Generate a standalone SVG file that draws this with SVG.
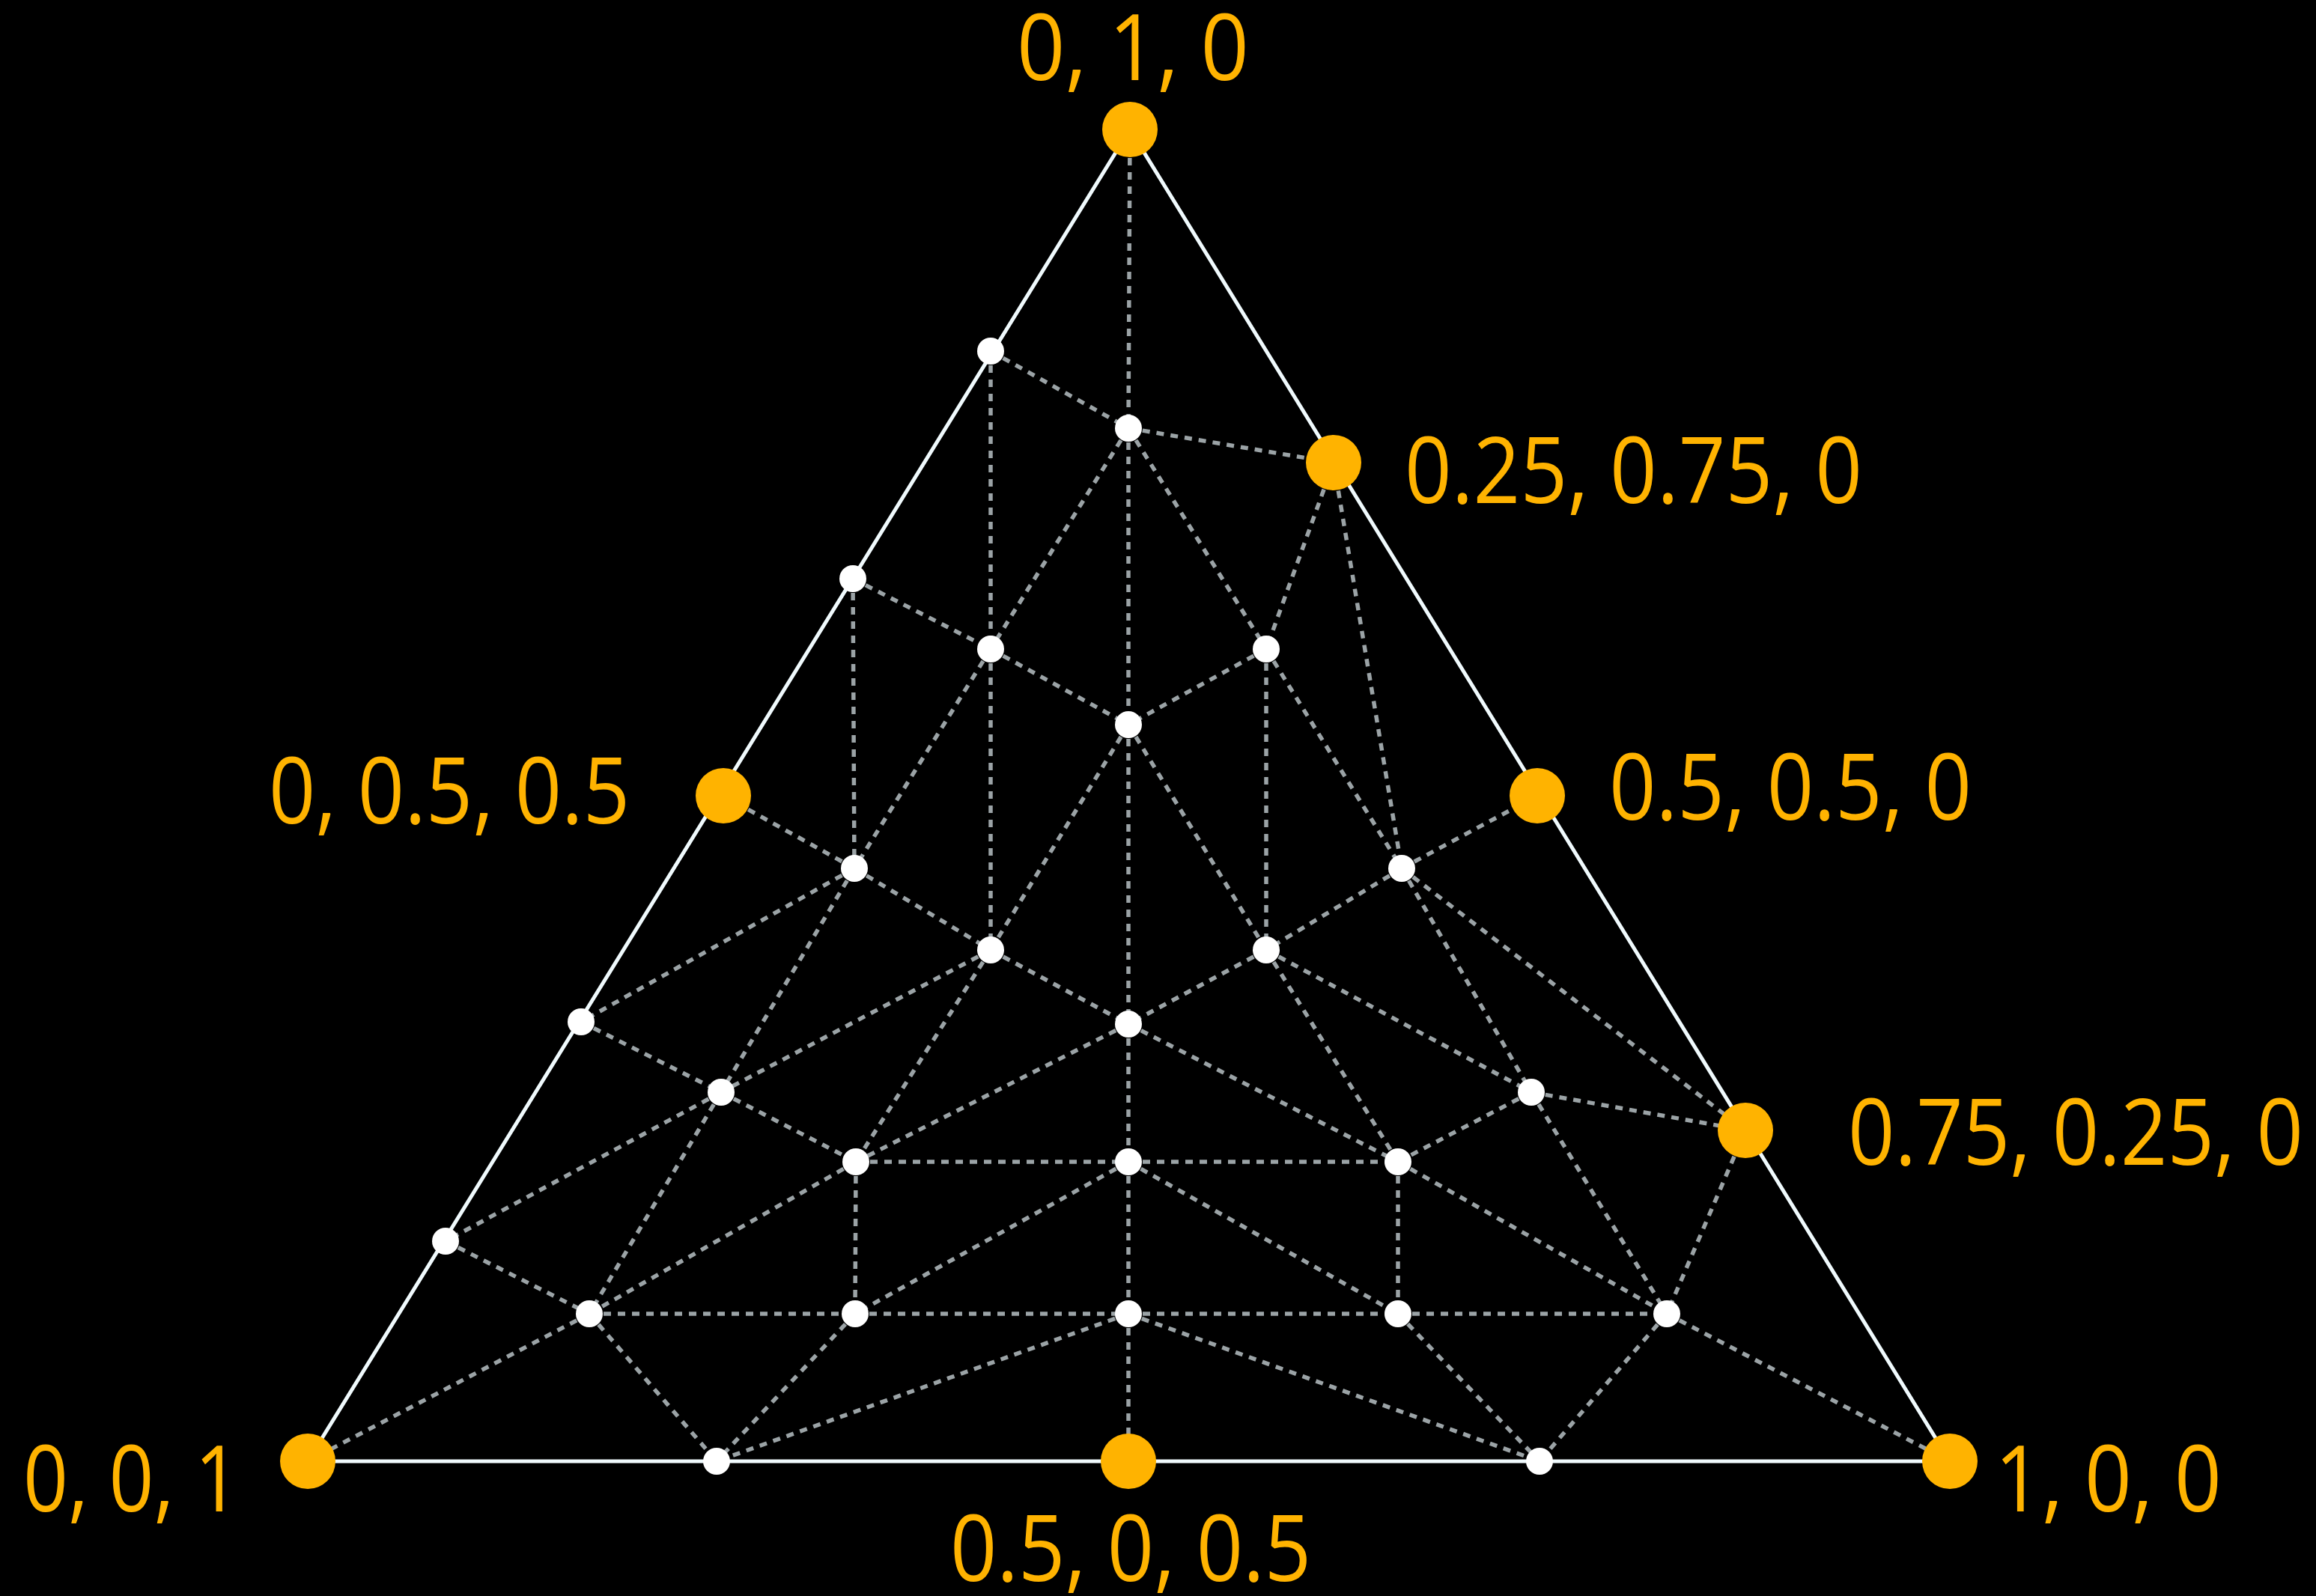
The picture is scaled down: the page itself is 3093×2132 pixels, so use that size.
<svg xmlns="http://www.w3.org/2000/svg" width="3093" height="2132" viewBox="0 0 3093 2132">
<style>
.edge{stroke:#f0fafd;stroke-width:5;fill:none}
.c{stroke:#9ba3a6;stroke-width:5.5;stroke-dasharray:10 9;fill:none}
.o{fill:#ffb300}
.w{fill:#ffffff}
.lbl{font-family:"Open Sans","Noto Sans","Liberation Sans",sans-serif;font-size:123px;fill:#ffb300}
</style>
<rect x="0" y="0" width="3093" height="2132" fill="#000000"/>
<g id="triangle">
<polygon class="edge" points="1509,173 411,1952 2604,1952"/>
</g>
<g id="connectors">
<line class="c" x1="1509" y1="173" x2="1507" y2="572"/>
<line class="c" x1="1323" y1="469" x2="1507" y2="572"/>
<line class="c" x1="1323" y1="469" x2="1323" y2="867"/>
<line class="c" x1="1507" y1="572" x2="1781" y2="618"/>
<line class="c" x1="1507" y1="572" x2="1323" y2="867"/>
<line class="c" x1="1507" y1="572" x2="1691" y2="867"/>
<line class="c" x1="1507" y1="572" x2="1507" y2="968"/>
<line class="c" x1="1781" y1="618" x2="1691" y2="867"/>
<line class="c" x1="1781" y1="618" x2="1872" y2="1160"/>
<line class="c" x1="1139" y1="773" x2="1323" y2="867"/>
<line class="c" x1="1139" y1="773" x2="1141" y2="1160"/>
<line class="c" x1="1323" y1="867" x2="1507" y2="968"/>
<line class="c" x1="1323" y1="867" x2="1141" y2="1160"/>
<line class="c" x1="1323" y1="867" x2="1323" y2="1269"/>
<line class="c" x1="1691" y1="867" x2="1507" y2="968"/>
<line class="c" x1="1691" y1="867" x2="1872" y2="1160"/>
<line class="c" x1="1691" y1="867" x2="1691" y2="1269"/>
<line class="c" x1="1507" y1="968" x2="1323" y2="1269"/>
<line class="c" x1="1507" y1="968" x2="1691" y2="1269"/>
<line class="c" x1="1507" y1="968" x2="1507" y2="1368"/>
<line class="c" x1="966" y1="1063" x2="1141" y2="1160"/>
<line class="c" x1="1141" y1="1160" x2="776" y2="1365"/>
<line class="c" x1="1141" y1="1160" x2="963" y2="1459"/>
<line class="c" x1="1141" y1="1160" x2="1323" y2="1269"/>
<line class="c" x1="1872" y1="1160" x2="2053" y2="1063"/>
<line class="c" x1="1872" y1="1160" x2="1691" y2="1269"/>
<line class="c" x1="1872" y1="1160" x2="2045" y2="1459"/>
<line class="c" x1="1872" y1="1160" x2="2331" y2="1510"/>
<line class="c" x1="1323" y1="1269" x2="963" y2="1459"/>
<line class="c" x1="1323" y1="1269" x2="1507" y2="1368"/>
<line class="c" x1="1323" y1="1269" x2="1143" y2="1552"/>
<line class="c" x1="1691" y1="1269" x2="1507" y2="1368"/>
<line class="c" x1="1691" y1="1269" x2="2045" y2="1459"/>
<line class="c" x1="1691" y1="1269" x2="1867" y2="1552"/>
<line class="c" x1="1507" y1="1368" x2="1143" y2="1552"/>
<line class="c" x1="1507" y1="1368" x2="1507" y2="1552"/>
<line class="c" x1="1507" y1="1368" x2="1867" y2="1552"/>
<line class="c" x1="776" y1="1365" x2="963" y2="1459"/>
<line class="c" x1="963" y1="1459" x2="1143" y2="1552"/>
<line class="c" x1="963" y1="1459" x2="595" y2="1658"/>
<line class="c" x1="963" y1="1459" x2="787" y2="1755"/>
<line class="c" x1="2045" y1="1459" x2="2331" y2="1510"/>
<line class="c" x1="2045" y1="1459" x2="1867" y2="1552"/>
<line class="c" x1="2045" y1="1459" x2="2226" y2="1755"/>
<line class="c" x1="2331" y1="1510" x2="2226" y2="1755"/>
<line class="c" x1="1143" y1="1552" x2="1507" y2="1552"/>
<line class="c" x1="1143" y1="1552" x2="1142" y2="1755"/>
<line class="c" x1="1143" y1="1552" x2="787" y2="1755"/>
<line class="c" x1="1507" y1="1552" x2="1867" y2="1552"/>
<line class="c" x1="1507" y1="1552" x2="1507" y2="1755"/>
<line class="c" x1="1507" y1="1552" x2="1142" y2="1755"/>
<line class="c" x1="1507" y1="1552" x2="1867" y2="1755"/>
<line class="c" x1="1867" y1="1552" x2="1867" y2="1755"/>
<line class="c" x1="1867" y1="1552" x2="2226" y2="1755"/>
<line class="c" x1="595" y1="1658" x2="787" y2="1755"/>
<line class="c" x1="787" y1="1755" x2="1142" y2="1755"/>
<line class="c" x1="787" y1="1755" x2="411" y2="1952"/>
<line class="c" x1="787" y1="1755" x2="957" y2="1952"/>
<line class="c" x1="1142" y1="1755" x2="1507" y2="1755"/>
<line class="c" x1="1142" y1="1755" x2="957" y2="1952"/>
<line class="c" x1="1507" y1="1755" x2="1867" y2="1755"/>
<line class="c" x1="1507" y1="1755" x2="1507" y2="1952"/>
<line class="c" x1="1507" y1="1755" x2="957" y2="1952"/>
<line class="c" x1="1507" y1="1755" x2="2056" y2="1952"/>
<line class="c" x1="1867" y1="1755" x2="2226" y2="1755"/>
<line class="c" x1="1867" y1="1755" x2="2056" y2="1952"/>
<line class="c" x1="2226" y1="1755" x2="2056" y2="1952"/>
<line class="c" x1="2226" y1="1755" x2="2604" y2="1952"/>
</g>
<g id="n-010"><circle class="o" cx="1509" cy="173" r="37"/><text class="lbl" x="1358" y="107" textLength="310" lengthAdjust="spacingAndGlyphs">0, 1, 0</text></g>
<g id="n-025-075-0"><circle class="o" cx="1781" cy="618" r="37"/><text class="lbl" x="1876" y="672" textLength="611" lengthAdjust="spacingAndGlyphs">0.25, 0.75, 0</text></g>
<g id="n-05-05-0"><circle class="o" cx="2053" cy="1063" r="37"/><text class="lbl" x="2149" y="1095" textLength="484" lengthAdjust="spacingAndGlyphs">0.5, 0.5, 0</text></g>
<g id="n-075-025-0"><circle class="o" cx="2331" cy="1510" r="37"/><text class="lbl" x="2468" y="1556" textLength="608" lengthAdjust="spacingAndGlyphs">0.75, 0.25, 0</text></g>
<g id="n-100"><circle class="o" cx="2604" cy="1952" r="37"/><text class="lbl" x="2664" y="2019" textLength="303" lengthAdjust="spacingAndGlyphs">1, 0, 0</text></g>
<g id="n-05-0-05"><circle class="o" cx="1507" cy="1952" r="37"/><text class="lbl" x="1269" y="2112" textLength="482" lengthAdjust="spacingAndGlyphs">0.5, 0, 0.5</text></g>
<g id="n-001"><circle class="o" cx="411" cy="1952" r="37"/><text class="lbl" x="31" y="2019" textLength="289" lengthAdjust="spacingAndGlyphs">0, 0, 1</text></g>
<g id="n-0-05-05"><circle class="o" cx="966" cy="1063" r="37"/><text class="lbl" x="359" y="1100" textLength="482" lengthAdjust="spacingAndGlyphs">0, 0.5, 0.5</text></g>
<g id="w1"><circle class="w" cx="1323" cy="469" r="18"/></g>
<g id="w2"><circle class="w" cx="1507" cy="572" r="18"/></g>
<g id="w3"><circle class="w" cx="1139" cy="773" r="18"/></g>
<g id="w4"><circle class="w" cx="1323" cy="867" r="18"/></g>
<g id="w5"><circle class="w" cx="1691" cy="867" r="18"/></g>
<g id="w6"><circle class="w" cx="1507" cy="968" r="18"/></g>
<g id="w7"><circle class="w" cx="1141" cy="1160" r="18"/></g>
<g id="w8"><circle class="w" cx="1872" cy="1160" r="18"/></g>
<g id="w9"><circle class="w" cx="1323" cy="1269" r="18"/></g>
<g id="w10"><circle class="w" cx="1691" cy="1269" r="18"/></g>
<g id="w11"><circle class="w" cx="1507" cy="1368" r="18"/></g>
<g id="w12"><circle class="w" cx="776" cy="1365" r="18"/></g>
<g id="w13"><circle class="w" cx="963" cy="1459" r="18"/></g>
<g id="w14"><circle class="w" cx="2045" cy="1459" r="18"/></g>
<g id="w15"><circle class="w" cx="1143" cy="1552" r="18"/></g>
<g id="w16"><circle class="w" cx="1507" cy="1552" r="18"/></g>
<g id="w17"><circle class="w" cx="1867" cy="1552" r="18"/></g>
<g id="w18"><circle class="w" cx="595" cy="1658" r="18"/></g>
<g id="w19"><circle class="w" cx="787" cy="1755" r="18"/></g>
<g id="w20"><circle class="w" cx="1142" cy="1755" r="18"/></g>
<g id="w21"><circle class="w" cx="1507" cy="1755" r="18"/></g>
<g id="w22"><circle class="w" cx="1867" cy="1755" r="18"/></g>
<g id="w23"><circle class="w" cx="2226" cy="1755" r="18"/></g>
<g id="w24"><circle class="w" cx="957" cy="1952" r="18"/></g>
<g id="w25"><circle class="w" cx="2056" cy="1952" r="18"/></g>
</svg>
